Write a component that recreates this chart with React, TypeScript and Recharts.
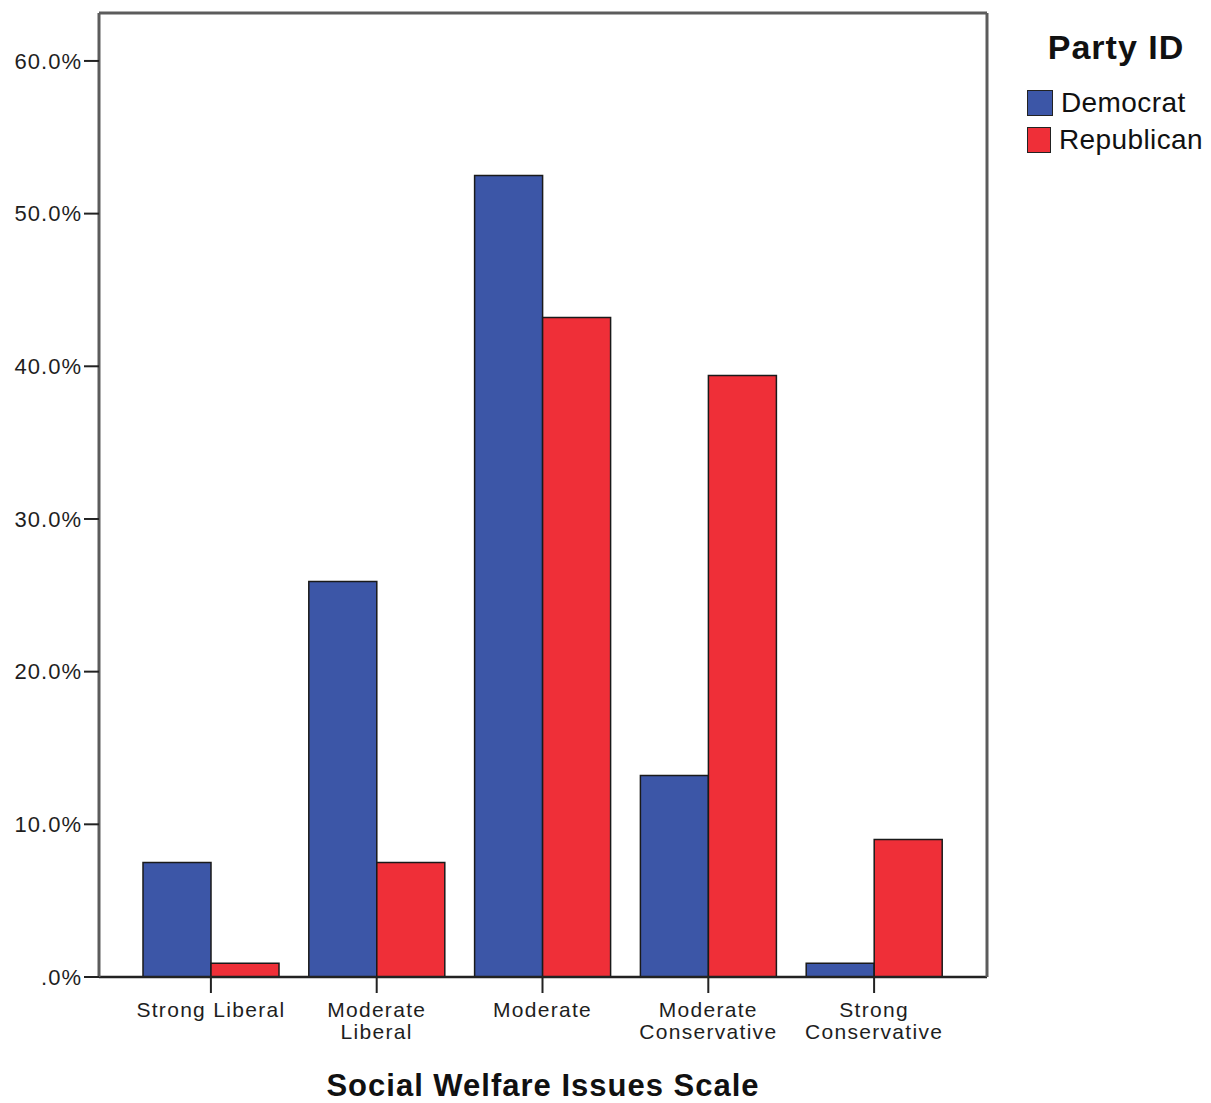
import React from 'react';
import { BarChart, Bar, XAxis, YAxis, Legend, Label } from 'recharts';

const categories = ['Strong Liberal', 'Moderate Liberal', 'Moderate', 'Moderate Conservative', 'Strong Conservative'];
const tickLabels = ['Strong Liberal', 'Moderate\nLiberal', 'Moderate', 'Moderate\nConservative', 'Strong\nConservative'];
const democrat = [7.5, 25.9, 52.5, 13.2, 0.9];
const republican = [0.9, 7.5, 43.2, 39.4, 9.0];
const yTicks = [0, 10, 20, 30, 40, 50, 60];
const seriesNames = ['Democrat', 'Republican'];

const COLORS = ['#3c56a7', '#ef2f38'];
const FONT = '"Liberation Sans", Arial, sans-serif';
const FRAME = '#5c5c5c';

const data = categories.map((cat, i) => ({
  cat,
  Democrat: democrat[i],
  Republican: republican[i],
}));

const fmtPct = (v: number) => (v === 0 ? '.0%' : `${v.toFixed(1)}%`);

const YTick = (props: any) => {
  const { x, y, payload } = props;
  return (
    <text x={x} y={y} dy="0.355em" textAnchor="end" fontFamily={FONT} fontSize={22} fill="#1e1e1e" style={{ letterSpacing: 1 }}>
      {fmtPct(payload.value)}
    </text>
  );
};

const XTick = (props: any) => {
  const { x, y, payload } = props;
  const idx = categories.indexOf(payload.value);
  const lines = (tickLabels[idx] || payload.value).split('\n');
  return (
    <text x={x} y={y} textAnchor="middle" fontFamily={FONT} fontSize={21} fill="#1e1e1e" style={{ letterSpacing: 1.3 }}>
      {lines.map((l: string, i: number) => (
        <tspan key={i} x={x} dy={i === 0 ? '0.71em' : 22}>
          {l}
        </tspan>
      ))}
    </text>
  );
};

const PartyLegend = () => (
  <div style={{ fontFamily: FONT, color: '#111' }}>
    <div style={{ fontWeight: 'bold', fontSize: 34, lineHeight: '36px', textAlign: 'center', marginBottom: 19, letterSpacing: 1, paddingLeft: 2 }}>
      Party ID
    </div>
    {seriesNames.map((n, i) => (
      <div key={n} style={{ display: 'flex', alignItems: 'center', height: 37.5 }}>
        <span
          style={{
            display: 'inline-block',
            width: 24,
            height: 24,
            background: COLORS[i],
            border: '1.5px solid #222',
            marginRight: 8,
          }}
        />
        <span style={{ fontSize: 28, letterSpacing: 0.4 }}>{n}</span>
      </div>
    ))}
  </div>
);

export default function App() {
  return (
    <div style={{ width: 1195, height: 1095 }}>
      <BarChart
        width={1195}
        height={1095}
        data={data}
        margin={{ top: 5, right: 216, bottom: 0, left: 0 }}
        barCategoryGap={15}
        barGap={0}
      >
        <XAxis
          dataKey="cat"
          height={126}
          padding={{ left: 29, right: 30 }}
          axisLine={{ stroke: '#222', strokeWidth: 2.5 }}
          tickLine={{ stroke: '#222', strokeWidth: 2 }}
          tickSize={16}
          tickMargin={9}
          tick={<XTick />}
          interval={0}
        >
          <Label
            value="Social Welfare Issues Scale"
            position="insideBottom"
            offset={7}
            style={{ fontFamily: FONT, fontSize: 31, fontWeight: 'bold', fill: '#111', letterSpacing: 1 }}
          />
        </XAxis>
        <XAxis
          xAxisId="top"
          dataKey="cat"
          orientation="top"
          mirror
          height={30}
          tick={false}
          tickLine={false}
          axisLine={{ stroke: FRAME, strokeWidth: 3 }}
        />
        <YAxis
          width={91}
          domain={[0, 63.14]}
          ticks={yTicks}
          interval={0}
          axisLine={{ stroke: FRAME, strokeWidth: 3 }}
          tickLine={{ stroke: '#222', strokeWidth: 2 }}
          tickSize={15}
          tickMargin={2}
          tick={<YTick />}
        />
        <YAxis
          yAxisId="right"
          orientation="right"
          mirror
          width={30}
          domain={[0, 63.14]}
          tick={false}
          tickLine={false}
          axisLine={{ stroke: FRAME, strokeWidth: 3 }}
        />
        <Legend
          content={<PartyLegend />}
          layout="vertical"
          verticalAlign="middle"
          align="center"
          wrapperStyle={{ position: 'absolute', left: 1019, top: 21, width: 176 }}
        />
        {seriesNames.map((n, i) => (
          <Bar key={n} dataKey={n} fill={COLORS[i]} stroke="#1a1a1a" strokeWidth={1.5} isAnimationActive={false} />
        ))}
      </BarChart>
    </div>
  );
}
